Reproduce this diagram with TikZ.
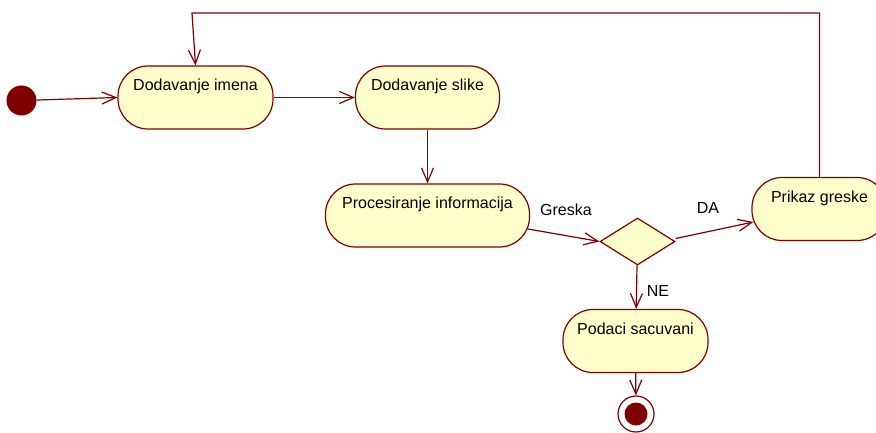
\documentclass[tikz,border=0pt]{standalone}
\usepackage{fontspec}
\setmainfont{Liberation Sans}
\usetikzlibrary{arrows.meta,shapes.geometric}
\definecolor{umlred}{HTML}{800000}
\definecolor{umlfill}{HTML}{FFFFCC}
\begin{document}
\begin{tikzpicture}[x=1pt,y=-1pt,
  font=\fontsize{16}{19}\selectfont,
  act/.style={draw=umlred,fill=umlfill,line width=1.2pt,rounded corners=30pt,
    minimum height=63pt,inner sep=0pt,text height=12pt,text depth=26pt},
  decision/.style={diamond,draw=umlred,fill=umlfill,line width=1.2pt,
    minimum width=75pt,minimum height=47pt,inner sep=0pt},
  startnode/.style={circle,fill=umlred,minimum size=30pt,inner sep=0pt},
  endnode/.style={circle,draw=umlred,fill=white,line width=1.2pt,minimum size=36pt,inner sep=0pt,
    path picture={\fill[umlred] (path picture bounding box.center) circle (11.5pt);}},
  flow/.style={draw=umlred,line width=1.2pt,-{Straight Barb[length=14pt,width=12pt,line width=1.2pt]}},
  lbl/.style={anchor=base,inner sep=0pt}]
\useasboundingbox (0,0) rectangle (876,433);
\clip (0,0) rectangle (876,433);

\node[startnode] (start) at (21.5,100.5) {};
\node[act,minimum width=155pt] (dim) at (195.5,97.5) {Dodavanje imena};
\node[act,minimum width=144pt] (dsl) at (427.5,97.5) {Dodavanje slike};
\node[act,minimum width=204pt] (proc) at (427.5,215.5) {Procesiranje informacija};
\node[decision] (dec) at (637.5,241.5) {};
\node[act,minimum width=135pt] (prk) at (819.5,209) {Prikaz greske};
\node[act,minimum width=145pt] (pod) at (635.5,341) {Podaci sacuvani};
\node[endnode] (end) at (636,414) {};

\coordinate (tr) at (819.5,13);
\coordinate (tl) at (192,13);

\draw[flow] (start) -- (dim.west);
\draw[flow] (dim) -- (dsl);
\draw[flow] (dsl) -- (proc);
\draw[flow] ([xshift=-2pt,yshift=-13.5pt]proc.east) -- (dec.west);
\draw[flow] ([yshift=3pt]dec.east) -- ([xshift=2pt,yshift=-13pt]prk.west);
\draw[flow] (dec) -- (pod);
\draw[flow] (pod) -- (end);
\draw[flow] (prk.north) -- (tr) -- (tl) -- (dim.north);

\node[lbl] (lg) at (566,215) {Greska};
\node[lbl] (lda) at (708,214) {DA};
\node[lbl] (lne) at (658,296) {NE};
\end{tikzpicture}
\end{document}
